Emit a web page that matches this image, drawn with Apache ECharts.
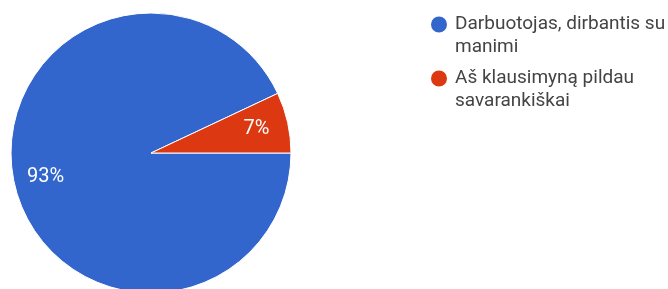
<!DOCTYPE html>
<html>
<head>
<meta charset="utf-8">
<script src="https://cdn.jsdelivr.net/npm/echarts@6/dist/echarts.min.js"></script>
<style>
  html, body { margin: 0; padding: 0; background: #fff; }
  #chart { width: 668px; height: 289px; }
</style>
</head>
<body>
<div id="chart"></div>
<script>
// answer options and their shares
const categories = ['Darbuotojas, dirbantis su manimi', 'Aš klausimyną pildau savarankiškai']
const shares = [93, 7]
const legendLines = ['Darbuotojas, dirbantis su\nmanimi', 'Aš klausimyną pildau\nsavarankiškai']
const colors = ['#3366cc', '#dc3912']

const pieData = categories.map((name, i) => ({ name: name, value: shares[i] }))

// one legend per item so the dot sits on the first text line
const legendTops = [-15, 39]
const legends = categories.map((name, i) => ({
  orient: 'vertical',
  left: 424,
  top: legendTops[i],
  icon: 'circle',
  itemWidth: 22,
  itemHeight: 18,
  data: [name],
  // blank first line keeps the icon centred on the first real line
  formatter: n => ' \n' + legendLines[categories.indexOf(n)],
  textStyle: {
    fontFamily: 'Roboto',
    fontSize: 19,
    lineHeight: 23,
    color: '#444'
  }
}))

const chart = echarts.init(document.getElementById('chart'))

chart.setOption({
  color: colors,
  animation: false,
  legend: legends,
  series: [
    {
      type: 'pie',
      center: [151, 153],
      radius: [0, 140],
      startAngle: 0,
      clockwise: true,
      silent: true,
      itemStyle: { borderColor: '#fff', borderWidth: 1 },
      label: { show: false },
      labelLine: { show: false },
      data: pieData
    },
    {
      // label layer: places the percentages at about 3/4 of the radius
      type: 'pie',
      center: [151, 153],
      radius: [70, 140],
      startAngle: 0,
      clockwise: true,
      silent: true,
      itemStyle: { color: 'rgba(0,0,0,0)' },
      label: {
        show: true,
        position: 'inside',
        formatter: p => Math.round(p.percent) + '%',
        color: '#fff',
        fontFamily: 'Roboto',
        fontSize: 20
      },
      labelLine: { show: false },
      data: pieData
    }
  ]
})
</script>
</body>
</html>
